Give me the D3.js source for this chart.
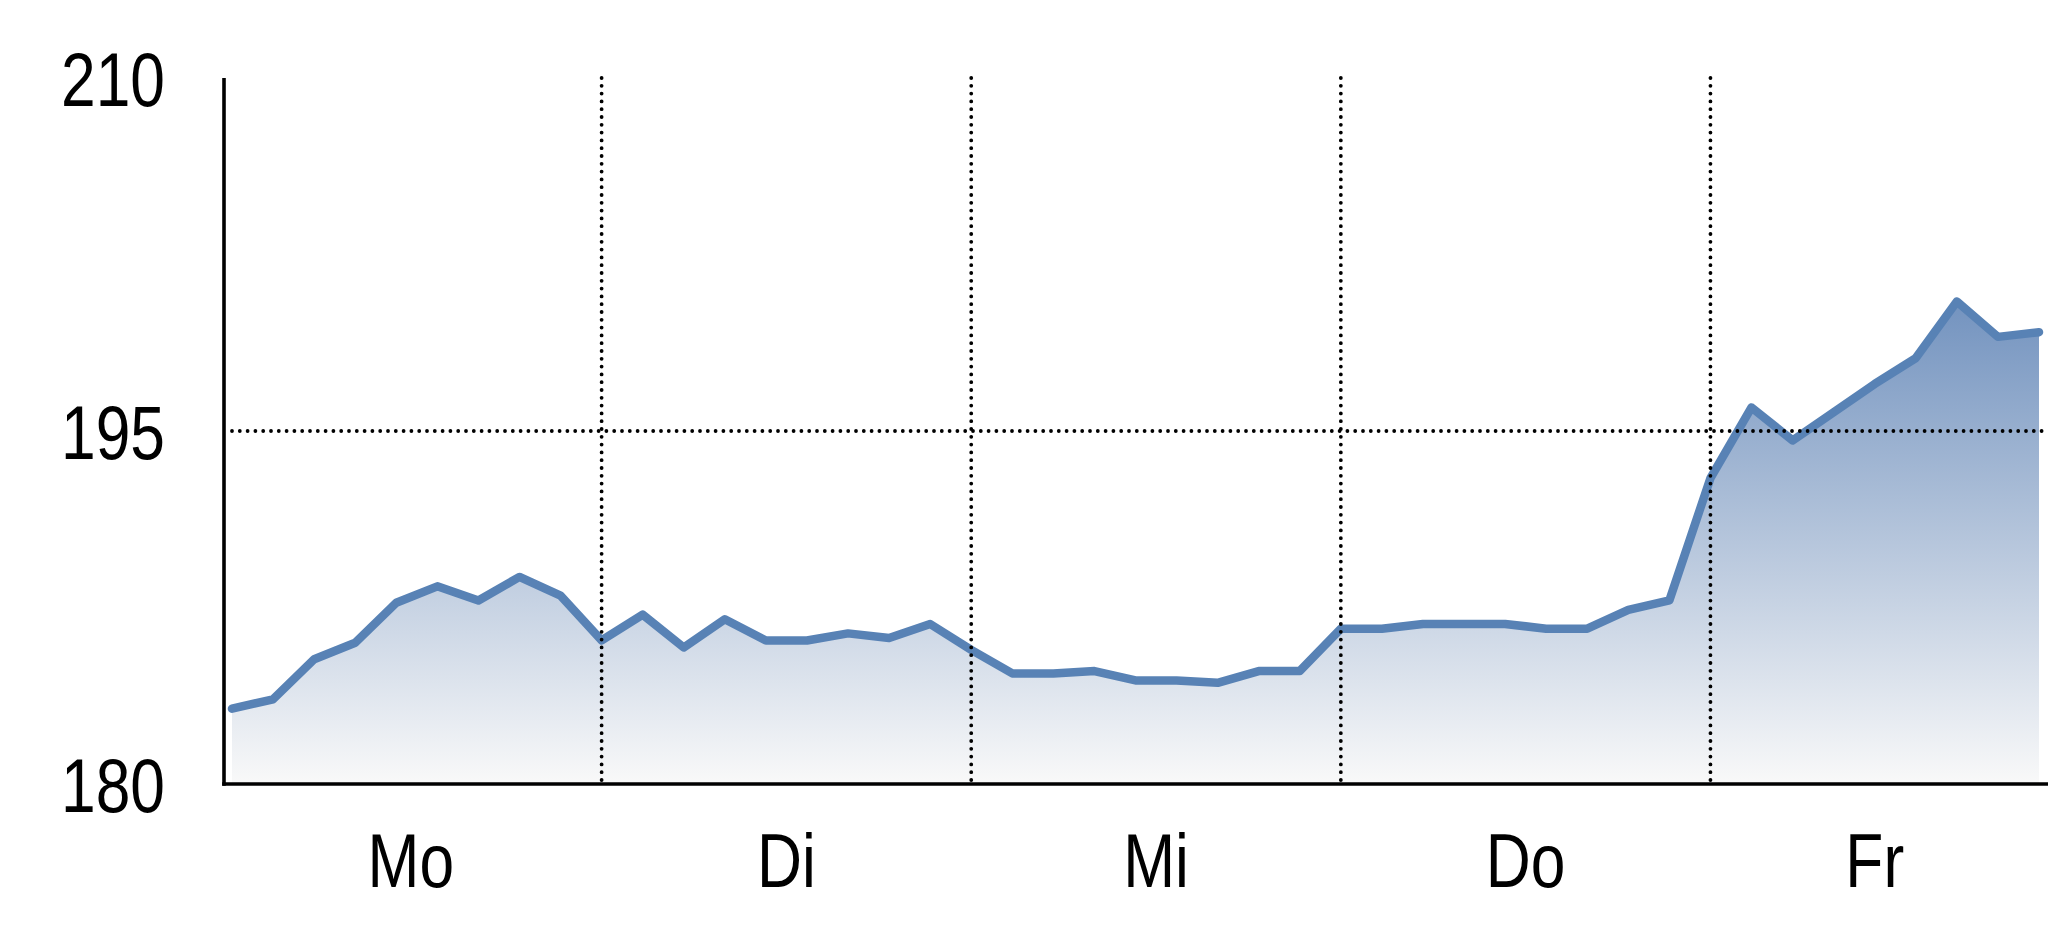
<!DOCTYPE html>
<html>
<head>
<meta charset="utf-8">
<script src="https://cdn.jsdelivr.net/npm/d3@7"></script>
<style>
  html, body { margin: 0; padding: 0; background: #ffffff; }
  svg { display: block; }
</style>
</head>
<body>
<svg id="chart" width="2048" height="937"></svg>
<script>
// ---- data ----
const days = ["Mo", "Di", "Mi", "Do", "Fr"];
const dayStartIndex = [0, 9, 18, 27, 36];
const dayEndIndex = [9, 18, 27, 36, 44];
const values = [
  183.2, 183.6, 185.3, 186.0, 187.7, 188.4, 187.8, 188.8, 188.0,
  186.1, 187.2, 185.8, 187.0, 186.1, 186.1, 186.4, 186.2, 186.8,
  185.7, 184.7, 184.7, 184.8, 184.4, 184.4, 184.3, 184.8, 184.8,
  186.6, 186.6, 186.8, 186.8, 186.8, 186.6, 186.6, 187.4, 187.8,
  193.0, 196.0, 194.6, 195.8, 197.0, 198.1, 200.5, 199.0, 199.2
];
const yTicks = [180, 195, 210];
const yGridValues = [195];

// ---- layout ----
const W = 2048, H = 937;
const axisX = 224, axisBottom = 784, axisTop = 78;
const svg = d3.select("#chart");

const x = d3.scaleLinear().domain([0, values.length - 1]).range([232, 2039]);
const y = d3.scaleLinear().domain([180, 210]).range([axisBottom, axisTop]);

// font detection: use narrow font if present, else scale
const FONT_NARROW = "'Liberation Sans Narrow', 'Arial Narrow'";
const FONT_WIDE = "'Liberation Sans', Arial, sans-serif";
function measure(font) {
  const t = svg.append("text").attr("font-family", font).attr("font-size", 100).text("Mo210");
  const w = t.node().getComputedTextLength();
  t.remove();
  return w;
}
const wNarrow = measure(FONT_NARROW + ", " + FONT_WIDE);
const wWide = measure(FONT_WIDE);
const hasNarrow = wNarrow < wWide * 0.95;
const fontFamily = hasNarrow ? FONT_NARROW + ", " + FONT_WIDE : FONT_WIDE;
const squeeze = hasNarrow ? 1 : 0.82;
const fontSize = 76;

// gradient
const defs = svg.append("defs");
const grad = defs.append("linearGradient")
  .attr("id", "areaGrad")
  .attr("gradientUnits", "userSpaceOnUse")
  .attr("x1", 0).attr("x2", 0)
  .attr("y1", y(d3.max(values))).attr("y2", axisBottom);
grad.append("stop").attr("offset", "0%").attr("stop-color", "#7393bf");
grad.append("stop").attr("offset", "100%").attr("stop-color", "#f9f9f9");

// area
const area = d3.area()
  .x((d, i) => x(i))
  .y0(axisBottom)
  .y1(d => y(d));
svg.append("path")
  .datum(values)
  .attr("d", area)
  .attr("fill", "url(#areaGrad)");

// line
const line = d3.line()
  .x((d, i) => x(i))
  .y(d => y(d));
svg.append("path")
  .datum(values)
  .attr("d", line)
  .attr("fill", "none")
  .attr("stroke", "#5882b5")
  .attr("stroke-width", 8.5)
  .attr("stroke-linejoin", "round")
  .attr("stroke-linecap", "round");

// gridlines (dotted)
const grid = svg.append("g")
  .attr("stroke", "#000")
  .attr("stroke-width", 3.8)
  .attr("stroke-linecap", "round")
  .attr("stroke-dasharray", "0 7.8");
grid.selectAll("line.v")
  .data(dayStartIndex.slice(1))
  .join("line")
  .attr("class", "v")
  .attr("x1", d => x(d)).attr("x2", d => x(d))
  .attr("y1", axisTop).attr("y2", axisBottom - 2);
grid.selectAll("line.h")
  .data(yGridValues)
  .join("line")
  .attr("class", "h")
  .attr("x1", axisX + 8).attr("x2", W)
  .attr("y1", d => y(d)).attr("y2", d => y(d));

// y axis
const yAxis = d3.axisLeft(y).tickValues(yTicks).tickSize(0).tickPadding(59).tickFormat(d3.format("d"));
const yg = svg.append("g").attr("transform", `translate(${axisX},0)`).call(yAxis);
yg.select(".domain").remove();
yg.selectAll("text")
  .attr("font-family", fontFamily)
  .attr("font-size", fontSize)
  .attr("fill", "#000")
  .attr("dy", "0.36em")
  .attr("transform", function() {
    const tx = +d3.select(this).attr("x");
    return squeeze !== 1 ? `translate(${tx * (1 - squeeze)},0) scale(${squeeze},1)` : null;
  });

svg.append("line")
  .attr("x1", axisX).attr("x2", axisX)
  .attr("y1", axisTop).attr("y2", axisBottom + 1.8)
  .attr("stroke", "#000").attr("stroke-width", 3.6);
svg.append("line")
  .attr("x1", axisX - 1.8).attr("x2", W)
  .attr("y1", axisBottom).attr("y2", axisBottom)
  .attr("stroke", "#000").attr("stroke-width", 3.6);

// day labels
const xLabelScale = d3.scaleOrdinal().domain(days)
  .range(days.map((d, i) => (x(dayStartIndex[i]) + x(dayEndIndex[i])) / 2));
svg.append("g").selectAll("text")
  .data(days)
  .join("text")
  .attr("transform", d => `translate(${xLabelScale(d) - (d === "Mo" ? 6 : 0)},887) scale(${squeeze},1)`)
  .attr("text-anchor", "middle")
  .attr("font-family", fontFamily)
  .attr("font-size", fontSize)
  .attr("fill", "#000")
  .text(d => d);
</script>
</body>
</html>
